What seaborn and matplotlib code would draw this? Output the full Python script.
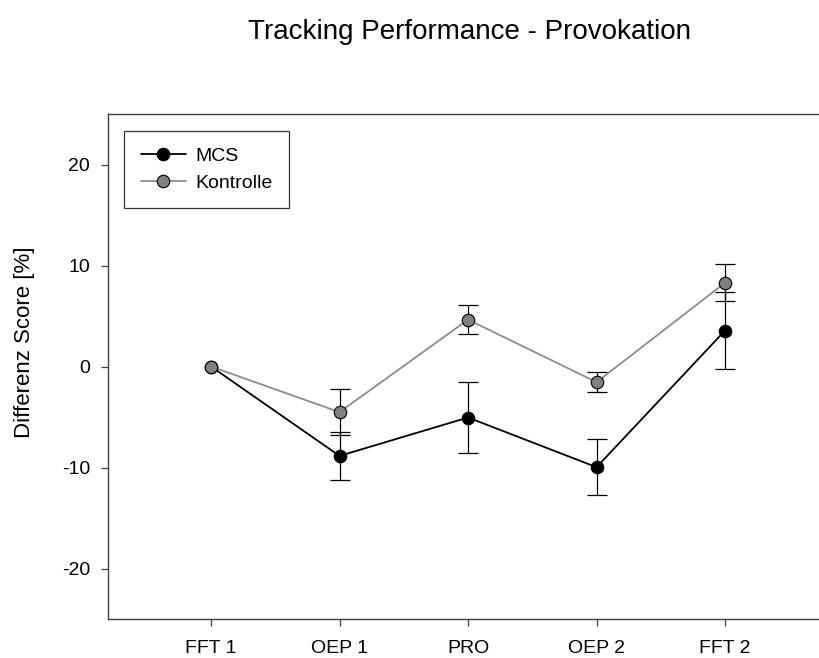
import matplotlib
matplotlib.use("Agg")
import matplotlib.pyplot as plt
import seaborn as sns
import pandas as pd
import numpy as np

# Measurement phases and group results (mean difference score and standard error)
phases = ["FFT 1", "OEP 1", "PRO", "OEP 2", "FFT 2"]
mcs_mean = [0.0, -8.85, -5.05, -9.97, 3.56]
mcs_se = [0.0, 2.36, 3.50, 2.80, 3.83]
kontrolle_mean = [0.0, -4.52, 4.64, -1.55, 8.29]
kontrolle_se = [0.0, 2.30, 1.40, 1.00, 1.82]

sns.set_theme(style="white")
plt.rcParams["font.family"] = ["Liberation Sans", "DejaVu Sans"]
plt.rcParams["axes.unicode_minus"] = False
plt.rcParams["text.color"] = "black"

pos = np.arange(len(phases))
df = pd.DataFrame({
    "pos": np.concatenate([pos, pos]),
    "score": mcs_mean + kontrolle_mean,
    "group": ["MCS"] * len(phases) + ["Kontrolle"] * len(phases),
})

fig = plt.figure(figsize=(8.19, 6.58), dpi=100)
ax = fig.add_axes([108 / 819, 39 / 658, 1 - 108 / 819, 505 / 658])

# error bars first, so the markers sit on top of them
for mean, se in [(mcs_mean, mcs_se), (kontrolle_mean, kontrolle_se)]:
    ax.errorbar(pos[1:], mean[1:], yerr=se[1:], fmt="none", ecolor="black",
                elinewidth=0.9, capsize=7, capthick=0.9, zorder=2)

styles = {
    "MCS": dict(color="black", markerfacecolor="black"),
    "Kontrolle": dict(color="#8c8c8c", markerfacecolor="#808080"),
}
for grp in ["MCS", "Kontrolle"]:
    sub = df[df["group"] == grp]
    sns.lineplot(data=sub, x="pos", y="score", ax=ax, label=grp,
                 marker="o", markersize=9, markeredgecolor="black",
                 markeredgewidth=0.8, linewidth=1.3, zorder=3,
                 **styles[grp])

ax.set_xlim(-0.8016, 4.731)
ax.set_ylim(-25, 25)
ax.set_xticks(pos)
ax.set_xticklabels(phases)
ax.set_yticks([-20, -10, 0, 10, 20])
ax.set_xlabel("")
ax.set_ylabel("")

for side in ["left", "bottom", "top"]:
    ax.spines[side].set_color("#404040")
    ax.spines[side].set_linewidth(1.0)
ax.spines["right"].set_visible(False)
ax.tick_params(axis="both", direction="out", length=5, width=0.9,
               color="#404040", labelsize=14, labelcolor="black",
               left=True, bottom=True, pad=8)
ax.tick_params(axis="x", pad=10)

fig.text(25 / 819, 1 - 342 / 658, "Differenz Score [%]", rotation=90,
         ha="center", va="center", fontsize=16)
fig.text(470 / 819, 1 - 32 / 658, "Tracking Performance - Provokation",
         ha="center", va="center", fontsize=20)

leg = ax.legend(loc="upper left", bbox_to_anchor=(124 / 819, 1 - 131 / 658),
                bbox_transform=fig.transFigure, fontsize=14, frameon=True,
                fancybox=False, edgecolor="black", handlelength=2.35,
                borderpad=0.85, labelspacing=0.45, handletextpad=0.45,
                borderaxespad=0)
leg.get_frame().set_linewidth(0.9)
for txt in leg.get_texts():
    txt.set_color("black")

fig.savefig("out.png", dpi=100)
